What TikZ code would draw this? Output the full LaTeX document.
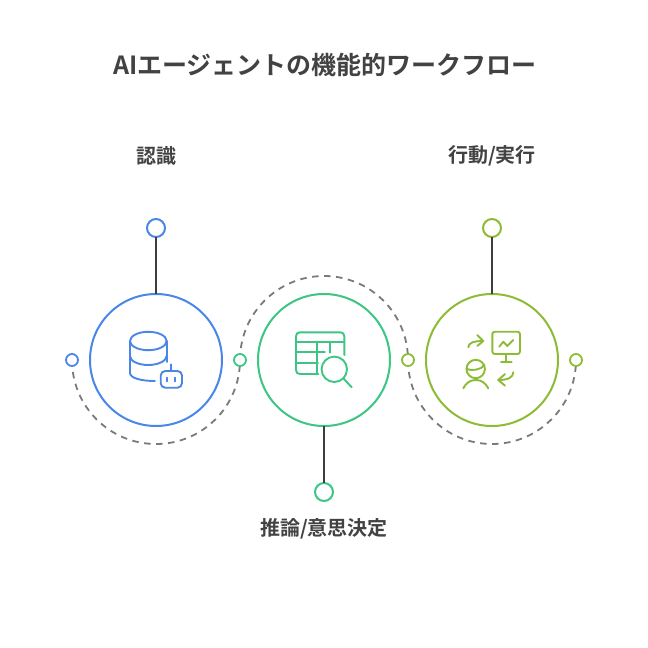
\documentclass[tikz,border=0pt]{standalone}
\usepackage{fontspec}
\setmainfont[BoldFont=Noto Sans CJK JP Bold]{Noto Sans CJK JP}
\definecolor{cblue}{HTML}{4A86E8}
\definecolor{cgreen}{HTML}{3CC583}
\definecolor{clime}{HTML}{8DBB35}
\definecolor{ctext}{HTML}{424242}
\definecolor{cdash}{HTML}{7A7A7A}
\definecolor{cstem}{HTML}{3D3D3D}
\tikzset{
  big/.style={circle,draw=#1,line width=2pt,minimum size=132pt,inner sep=0pt,outer sep=0pt},
  endpt/.style={circle,draw=#1,line width=2pt,fill=white,minimum size=18pt,inner sep=0pt,outer sep=0pt},
  joint/.style={circle,draw=#1,line width=1.8pt,fill=white,minimum size=12pt,inner sep=0pt,outer sep=0pt},
  stem/.style={draw=cstem,line width=2.2pt},
  arcdash/.style={draw=cdash,line width=1.8pt,dash pattern=on 6.5pt off 5.5pt},
  lbl/.style={text=ctext,font=\fontsize{20}{24}\selectfont\bfseries,inner sep=0pt},
  ttl/.style={text=ctext,font=\fontsize{25}{30}\selectfont\bfseries,inner sep=0pt},
  ico/.style={draw=#1,line width=1.9pt,line cap=round,line join=round},
}
\begin{document}
\begin{tikzpicture}[x=1pt,y=-1pt]
\useasboundingbox (0,0) rectangle (648,648);
% dashed arcs
\draw[arcdash] (72,360) arc[start angle=180,end angle=360,radius=84pt];
\draw[arcdash] (240,360) arc[start angle=180,end angle=0,radius=84pt];
\draw[arcdash] (408,360) arc[start angle=180,end angle=360,radius=84pt];
% circles
\node[big=cblue] (c1) at (156,360) {};
\node[big=cgreen] (c2) at (324,360) {};
\node[big=clime] (c3) at (492,360) {};
\node[endpt=cblue] (e1) at (156,228) {};
\node[endpt=cgreen] (e2) at (324,492) {};
\node[endpt=clime] (e3) at (492,228) {};
\draw[stem] (e1) -- (c1);
\draw[stem] (e2) -- (c2);
\draw[stem] (e3) -- (c3);
\node[joint=cblue] (j1) at (72,360) {};
\node[joint=cgreen] (j2) at (240,360) {};
\node[joint=clime] (j3) at (408,360) {};
\node[joint=clime] (j4) at (576,360) {};
% labels
\node[ttl] (title) at (325,65) {AIエージェントの機能的ワークフロー};
\node[lbl] (l1) at (156.5,156) {認識};
\node[lbl] (l3) at (492,156) {行動/実行};
\node[lbl] (l2) at (324,529) {推論/意思決定};
% icon 1: database + robot
\begin{scope}[ico=cblue]
\draw (148.3,341) ellipse[x radius=18.3pt,y radius=9.2pt];
\draw (130,341) -- (130,373) .. controls (130,378) and (141,381) .. (155,381);
\draw (130,356) .. controls (130,361) and (138,365) .. (148.3,365) .. controls (158,365) and (166.6,361) .. (166.6,356);
\draw (166.6,341) -- (166.6,362);
\draw[rounded corners=4.5pt] (160.7,371) rectangle (182,387.7);
\draw (171.3,364.3) -- (171.3,371);
\draw (167.3,377.7) -- (167.3,381.5);
\draw (175,377.7) -- (175,381.5);
\end{scope}
% icon 2: table + magnifier
\begin{scope}[ico=cgreen]
\draw (318.3,374) -- (300,374) .. controls (297.5,374) and (296,372.5) .. (296,370) -- (296,336.3) .. controls (296,333.8) and (297.5,332.3) .. (300,332.3) -- (340.3,332.3) .. controls (342.8,332.3) and (344.3,333.8) .. (344.3,336.3) -- (344.3,355);
\draw (296,341.7) -- (344.3,341.7);
\draw (316.7,341.7) -- (316.7,374);
\draw (330,341.7) -- (330,352.7);
\draw (296,352.3) -- (325,352.3);
\draw (296,362.7) -- (318,362.7);
\draw (334.3,369.3) circle[radius=12.7pt];
\draw (343.3,378.3) -- (351.7,387.3);
\end{scope}
% icon 3: person, monitor, arrows
\begin{scope}[ico=clime]
\draw[rounded corners=2.5pt] (492.3,331.7) rectangle (520,354);
\draw (506,354) -- (506,361.7);
\draw (501,361.7) -- (511.7,361.7);
\draw (499.3,346.7) -- (503.3,341.7) -- (507.3,346) -- (513.3,340);
\draw (468.3,347.3) .. controls (468.5,343) and (473,341) .. (483.3,341);
\draw (477.3,335) -- (483.3,341) -- (477.3,346);
\draw (513.3,372.3) .. controls (513,377.5) and (508,380) .. (498.3,380);
\draw (505,374) -- (498.3,380) -- (505,385.7);
\draw (475.7,369) circle[radius=9.2pt];
\draw (466.5,369) .. controls (472,371) and (481,370) .. (484.5,365);
\draw (463.3,388.3) .. controls (466,383) and (470,380) .. (475.8,380) .. controls (481.5,380) and (485.5,383) .. (488.3,388.3);
\end{scope}
\end{tikzpicture}
\end{document}
